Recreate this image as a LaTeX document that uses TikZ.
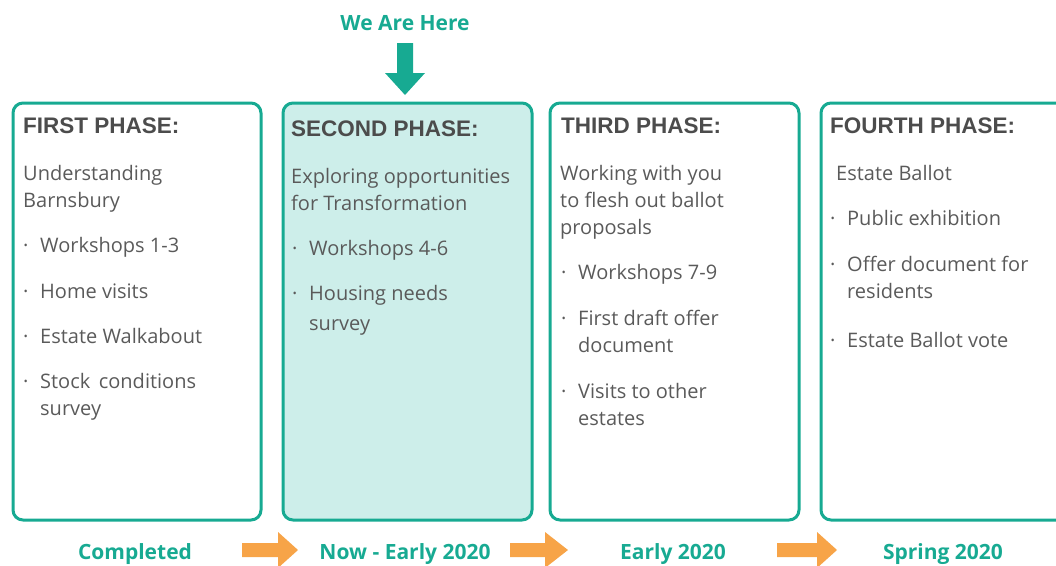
\documentclass[tikz,border=0pt]{standalone}
\usepackage{fontspec}
\setmainfont{Open Sans}
\newfontfamily\headfont{Liberation Sans}
\definecolor{tealc}{HTML}{17AA92}
\definecolor{fillc}{HTML}{CDEEEA}
\definecolor{txt}{HTML}{5A5A5A}
\definecolor{headc}{HTML}{4C4C4C}
\definecolor{orng}{HTML}{F7A448}
\newcommand{\bl}{\makebox[17pt][l]{\textperiodcentered}}
\newcommand{\ind}{\hspace*{17pt}}
\begin{document}
\begin{tikzpicture}[x=1pt,y=-1pt,
  phasebox/.style={draw=tealc, line width=3pt, rounded corners=10pt, minimum height=417pt, anchor=north west, inner sep=0},
  headtext/.style={anchor=base west, inner sep=0, text=headc, font=\headfont\fontsize{22.5}{24}\selectfont\bfseries},
  bodytext/.style={anchor=base west, inner sep=0, align=left, text=txt, font=\fontsize{20}{27}\selectfont},
  lbl/.style={anchor=base, inner sep=0, text=tealc, font=\fontsize{21}{24}\selectfont\bfseries},
  orarrow/.style={fill=orng, draw=none}]
\useasboundingbox (0,0) rectangle (1056,565);
\clip (0,0) rectangle (1056,565);
% boxes
\node[phasebox, minimum width=248pt] (b1) at (11.5,101.5) {};
\node[phasebox, minimum width=249pt, fill=fillc] (b2) at (281.5,101.5) {};
\node[phasebox, minimum width=249pt] (b3) at (548.5,101.5) {};
\node[phasebox, minimum width=260pt] (b4) at (819.5,101.5) {};
% box 1 (multi-line nodes are placed at the baseline of their last line)
\node[headtext] (h1) at (23,133) {FIRST PHASE:};
\node[bodytext] (t1) at (23,207) {Understanding\\Barnsbury};
\node[bodytext] (i11) at (23,252) {\bl Workshops 1-3};
\node[bodytext] (i12) at (23,298) {\bl Home visits};
\node[bodytext] (i13) at (23,343) {\bl Estate Walkabout};
\node[bodytext] (i14) at (23,415) {\bl Stock\, conditions\\\ind survey};
% box 2
\node[headtext] (h2) at (291,136) {SECOND PHASE:};
\node[bodytext] (t2) at (291,210) {Exploring opportunities\\for Transformation};
\node[bodytext] (i21) at (292,255) {\bl Workshops 4-6};
\node[bodytext] (i22) at (292,330) {\bl Housing needs\\[3pt]\ind survey};
% box 3
\node[headtext] (h3) at (561,133) {THIRD PHASE:};
\node[bodytext] (t3) at (560,234) {Working with you\\to flesh out ballot\\proposals};
\node[bodytext] (i31) at (561,279) {\bl Workshops 7-9};
\node[bodytext] (i32) at (561,352) {\bl First draft offer\\\ind document};
\node[bodytext] (i33) at (561,425) {\bl Visits to other\\\ind estates};
% box 4
\node[headtext] (h4) at (830,133) {FOURTH PHASE:};
\node[bodytext] (t4) at (836,180) {Estate Ballot};
\node[bodytext] (i41) at (830,225) {\bl Public exhibition};
\node[bodytext] (i42) at (830,298) {\bl Offer document for\\\ind residents};
\node[bodytext] (i43) at (830,347) {\bl Estate Ballot vote};
% we are here
\node[lbl] (here) at (405,30) {We Are Here};
\fill[tealc] (397,43) -- (413,43) -- (413,73) -- (425,73) -- (405,95) -- (385,73) -- (397,73) -- cycle;
% bottom labels
\node[lbl] (l1) at (135,559) {Completed};
\node[lbl] (l2) at (405,559) {Now - Early 2020};
\node[lbl] (l3) at (673,559) {Early 2020};
\node[lbl] (l4) at (943,559) {Spring 2020};
% orange arrows
\path[orarrow] (242,543) -- (278,543) -- (278,532) -- (298,550) -- (278,568) -- (278,557) -- (242,557) -- cycle;
\path[orarrow] (510,543) -- (545,543) -- (545,532) -- (568,550) -- (545,568) -- (545,557) -- (510,557) -- cycle;
\path[orarrow] (777,543) -- (817,543) -- (817,532) -- (837,550) -- (817,568) -- (817,557) -- (777,557) -- cycle;
\end{tikzpicture}
\end{document}
